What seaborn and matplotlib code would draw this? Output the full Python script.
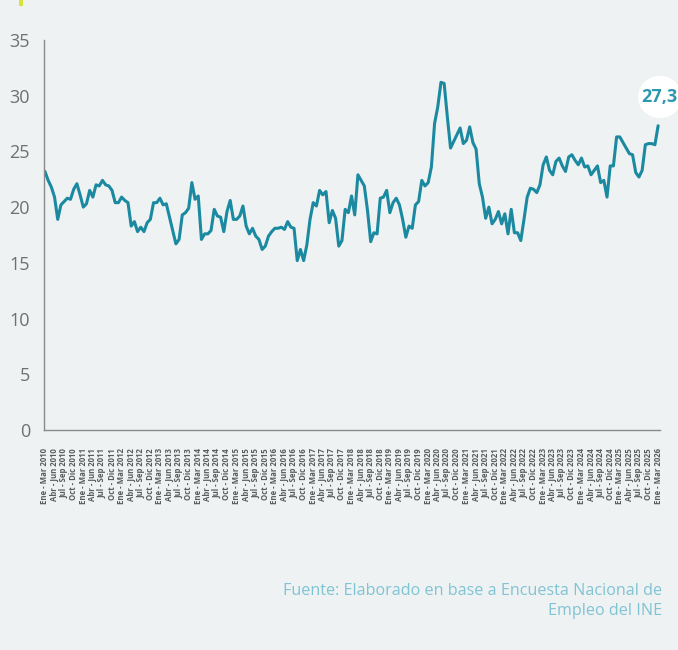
import matplotlib
matplotlib.use("Agg")
import matplotlib.pyplot as plt
import matplotlib.patches as mpatches
import seaborn as sns
import pandas as pd

# ---- data -------------------------------------------------------------
month_abbr = ["Ene", "Feb", "Mar", "Abr", "May", "Jun",
              "Jul", "Ago", "Sep", "Oct", "Nov", "Dic"]
start_year = 2010
end_year = 2026

values = [
    23.2, 22.4, 21.8, 20.9, 18.9, 20.2, 20.5, 20.8, 20.7, 21.6,
    22.1, 21.1, 20.0, 20.3, 21.5, 20.9, 22.0, 21.9, 22.4, 22.0,
    21.9, 21.5, 20.4, 20.4, 20.9, 20.6, 20.4, 18.3, 18.7, 17.8,
    18.2, 17.8, 18.6, 18.9, 20.4, 20.4, 20.8, 20.2, 20.3, 19.1,
    17.9, 16.7, 17.1, 19.3, 19.5, 19.9, 22.2, 20.7, 21.0, 17.1,
    17.6, 17.6, 17.9, 19.8, 19.2, 19.1, 17.8, 19.6, 20.6, 18.9,
    18.9, 19.2, 20.1, 18.3, 17.6, 18.1, 17.4, 17.1, 16.2, 16.5,
    17.4, 17.8, 18.1, 18.1, 18.2, 18.0, 18.7, 18.2, 18.1, 15.2,
    16.2, 15.2, 16.6, 18.9, 20.4, 20.1, 21.5, 21.1, 21.4, 18.6,
    19.7, 19.0, 16.5, 17.0, 19.8, 19.5, 21.0, 19.3, 22.9, 22.4,
    21.9, 19.7, 16.9, 17.7, 17.6, 20.8, 20.9, 21.5, 19.5, 20.4,
    20.8, 20.2, 18.9, 17.3, 18.3, 18.1, 20.2, 20.5, 22.4, 21.9,
    22.2, 23.6, 27.5, 29.0, 31.2, 31.1, 28.1, 25.3, 25.9, 26.5,
    27.1, 25.7, 26.0, 27.2, 25.8, 25.2, 22.1, 20.9, 19.0, 20.0,
    18.5, 18.9, 19.6, 18.5, 19.4, 17.6, 19.8, 17.7, 17.7, 17.0,
    18.9, 20.9, 21.7, 21.6, 21.3, 22.0, 23.8, 24.5, 23.3, 22.9,
    24.1, 24.4, 23.7, 23.2, 24.5, 24.7, 24.2, 23.8, 24.4, 23.6,
    23.7, 22.9, 23.3, 23.7, 22.2, 22.4, 20.9, 23.7, 23.7, 26.3,
    26.3, 25.8, 25.3, 24.8, 24.7, 23.1, 22.7, 23.3, 25.6, 25.7,
    25.7, 25.6, 27.3,
]

last_label = "27,3"
source_text = "Fuente: Elaborado en base a Encuesta Nacional de\nEmpleo del INE"
y_ticks = [0, 5, 10, 15, 20, 25, 30, 35]

# rolling-quarter period names
periods = []
for year in range(start_year, end_year + 1):
    for m in range(12):
        label = f"{month_abbr[m]} - {month_abbr[(m + 2) % 12]} {year}"
        periods.append(label)
periods = periods[:len(values)]

df = pd.DataFrame({"periodo": periods, "valor": values, "pos": range(len(values))})

# ---- style ------------------------------------------------------------
bg = "#EEF2F3"
line_color = "#1B8AA1"
sns.set_theme(style="white")
plt.rcParams["font.family"] = ["Open Sans", "DejaVu Sans"]

fig = plt.figure(figsize=(6.78, 6.5), dpi=100, facecolor=bg)
ax = fig.add_axes([0.0649, 0.3385, 0.9086, 0.6])
ax.set_facecolor(bg)

sns.lineplot(data=df, x="pos", y="valor", ax=ax, color=line_color,
             linewidth=2.2, solid_joinstyle="round")

ax.set_xlim(-0.3, len(values) - 1 + 0.6)
ax.set_ylim(0, 35)
ax.set_yticks(y_ticks)
ax.set_yticklabels([str(t) for t in y_ticks], fontsize=13, color="#707070")

tick_pos = list(range(0, len(values), 3))
ax.set_xticks(tick_pos)
ax.set_xticklabels([periods[i] for i in tick_pos], rotation=90,
                   fontsize=5.6, fontweight="bold", color="#5A5A5A")
ax.tick_params(axis="x", length=0, pad=13)
ax.tick_params(axis="y", length=0, pad=10)
ax.set_xlabel("")
ax.set_ylabel("")

for side in ["top", "right"]:
    ax.spines[side].set_visible(False)
for side in ["left", "bottom"]:
    ax.spines[side].set_color("#8A8A8A")
    ax.spines[side].set_linewidth(1.0)

# ---- end-value bubble ------------------------------------------------
circ = mpatches.Circle((660 / 678, 1 - 97 / 650), radius=22 / 678,
                       transform=fig.transFigure, facecolor="white",
                       edgecolor="none", zorder=5)
fig.patches.append(circ)
fig.text(659 / 678, 1 - 97 / 650, last_label, ha="center", va="center",
         fontsize=13, fontweight="bold", color="#2C97B0", zorder=6)

# title accent bar (title cropped in reference)
fig.patches.append(mpatches.Rectangle((19 / 678, 1 - 6 / 650), 4 / 678, 6 / 650,
                                      transform=fig.transFigure,
                                      facecolor="#D7E23A", edgecolor="none"))

# ---- source -----------------------------------------------------------
fig.text(662 / 678, 1 - 601 / 650, source_text, ha="right", va="center",
         fontsize=11.6, color="#80C4D4", linespacing=1.4)

fig.savefig("out.png", dpi=100, facecolor=bg)
